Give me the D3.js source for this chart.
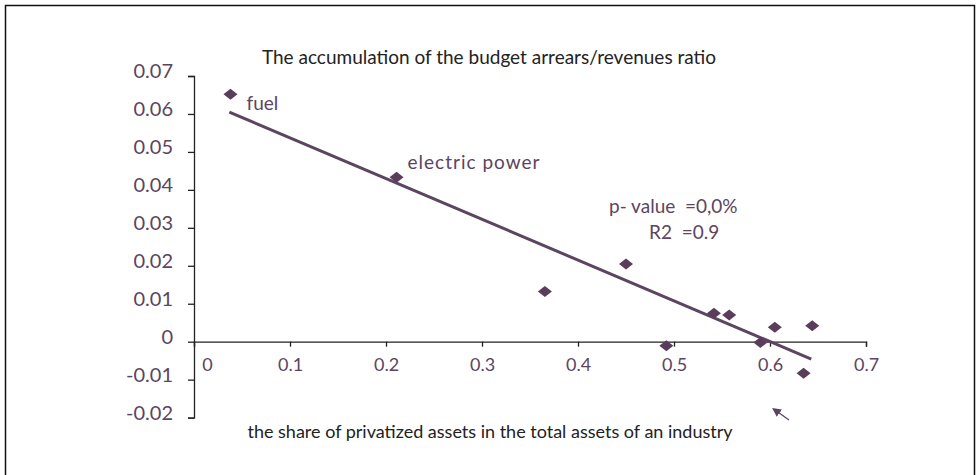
<!DOCTYPE html>
<html>
<head>
<meta charset="utf-8">
<script src="https://cdn.jsdelivr.net/npm/d3@7"></script>
<style>
  body { margin: 0; background: #fff; }
  text { font-family: Lato, "Open Sans", sans-serif; white-space: pre; }
</style>
</head>
<body>
<svg id="chart" width="978" height="475"></svg>
<script>
// industries: share of privatized assets vs arrears/revenues accumulation
var shareX = [0.038, 0.211, 0.3655, 0.450, 0.492, 0.5416, 0.5575, 0.590, 0.605, 0.635, 0.644];
var arrearsY = [0.0652, 0.0433, 0.0132, 0.0205, -0.0011, 0.0075, 0.0070, -0.0002, 0.0038, -0.0083, 0.0042];
var pointLabels = ["fuel", "electric power", "", "", "", "", "", "", "", "", ""];
var trendX = [0.0368, 0.643];
var trendY = [0.0605, -0.0046];
var xTicks = [0, 0.1, 0.2, 0.3, 0.4, 0.5, 0.6, 0.7];
var yTicks = [-0.02, -0.01, 0, 0.01, 0.02, 0.03, 0.04, 0.05, 0.06, 0.07];

var purple = "#5b4561";
var svg = d3.select("#chart");

// frame (no bottom edge in the picture)
svg.append("path")
    .attr("d", "M5.5,480V5.5H974.5V480")
    .attr("fill", "none")
    .attr("stroke", "#111")
    .attr("stroke-width", 1.5);

var x = d3.scaleLinear().domain([0, 0.7]).range([194, 866]);
var y = d3.scaleLinear().domain([-0.02, 0.07]).range([417.6, 76]);

// plain hyphen for negatives, like the original
var fmt = function(dec){
    return function(d){ return String(+d.toFixed(dec)).replace("−", "-"); };
};

var yAxis = svg.append("g")
    .attr("transform", "translate(" + x(0) + ",0)")
    .call(d3.axisLeft(y).tickValues(yTicks).tickSize(6).tickPadding(15).tickFormat(fmt(2)));
var xAxis = svg.append("g")
    .attr("transform", "translate(0," + y(0) + ")")
    .call(d3.axisBottom(x).tickValues(xTicks).tickSize(5).tickPadding(12).tickFormat(fmt(1)));

[xAxis, yAxis].forEach(function(a){
    a.select(".domain").attr("stroke", "#222").attr("stroke-width", 1.3);
    a.selectAll(".tick line").attr("stroke", "#222").attr("stroke-width", 1.3);
    a.selectAll(".tick text").attr("fill", purple)
        .style("font-family", "Lato, sans-serif");
});
xAxis.selectAll(".tick text").style("font-size", "18px");
yAxis.selectAll(".tick text").style("font-size", "20px").attr("y", -5);
xAxis.selectAll(".tick").filter(function(d){ return d === 0; })
    .select("text").attr("dx", 13);

// trend line
svg.append("line")
    .attr("x1", x(trendX[0])).attr("y1", y(trendY[0]))
    .attr("x2", x(trendX[1])).attr("y2", y(trendY[1]))
    .attr("stroke", purple).attr("stroke-width", 3);

// diamonds
var pts = d3.range(shareX.length).map(function(i){
    return {x: shareX[i], y: arrearsY[i], label: pointLabels[i]};
});
svg.selectAll(".pt").data(pts).enter().append("path")
    .attr("class", "pt")
    .attr("transform", function(d){ return "translate(" + x(d.x) + "," + y(d.y) + ")"; })
    .attr("d", "M0,-5.5L7,0L0,5.5L-7,0Z")
    .attr("fill", "#5a3d5a");

svg.selectAll(".lbl").data(pts.filter(function(d){ return d.label; })).enter().append("text")
    .attr("x", function(d){ return x(d.x) + (d.label === "fuel" ? 16 : 11); })
    .attr("y", function(d){ return y(d.y) + (d.label === "fuel" ? 16 : -8); })
    .attr("fill", purple).style("font-size", "19px")
    .style("letter-spacing", function(d){ return d.label === "fuel" ? "0px" : "1px"; })
    .text(function(d){ return d.label; });

// stats
svg.append("text").attr("x", 609).attr("y", 213).attr("fill", purple)
    .style("font-size", "19px").text("p- value  =0,0%");
svg.append("text").attr("x", 649).attr("y", 239).attr("fill", purple)
    .style("font-size", "19px").text("R2  =0.9");

// titles
svg.append("text").attr("x", 489).attr("y", 64).attr("text-anchor", "middle")
    .attr("fill", "#222").style("font-size", "19px")
    .text("The accumulation of the budget arrears/revenues ratio");
svg.append("text").attr("x", 490).attr("y", 438).attr("text-anchor", "middle")
    .attr("fill", "#222").style("font-size", "18px")
    .text("the share of privatized assets in the total assets of an industry");

// small arrow near the x axis end
svg.append("defs").append("marker")
    .attr("id", "ah").attr("viewBox", "0 0 10 10").attr("refX", 6).attr("refY", 5)
    .attr("markerWidth", 9).attr("markerHeight", 9).attr("markerUnits", "userSpaceOnUse")
    .attr("orient", "auto")
    .append("path").attr("d", "M0,0L10,5L0,10Z").attr("fill", purple);
svg.append("line")
    .attr("x1", 789).attr("y1", 420).attr("x2", 775).attr("y2", 410)
    .attr("stroke", purple).attr("stroke-width", 1.3)
    .attr("marker-end", "url(#ah)");
</script>
</body>
</html>
